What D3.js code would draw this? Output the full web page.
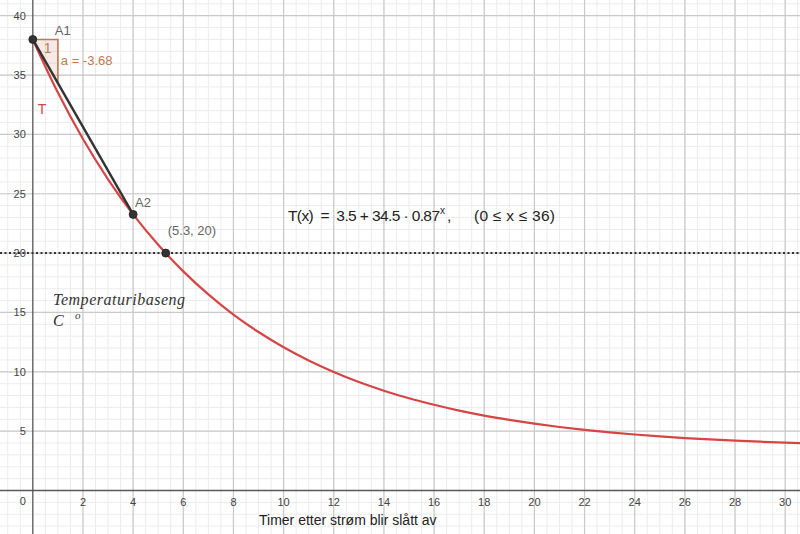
<!DOCTYPE html>
<html><head><meta charset="utf-8">
<script src="https://cdn.jsdelivr.net/npm/d3@7"></script>
<style>
html,body{margin:0;padding:0;background:#fff;}
svg{display:block;}
</style></head>
<body>
<svg id="c" width="800" height="534"></svg>
<script>
// ---- data ----
const xTicks = [2,4,6,8,10,12,14,16,18,20,22,24,26,28,30];
const yTicks = [5,10,15,20,25,30,35,40];
const curveX = [0,1,2,3,4,5,6,7,8,9,10,11,12,13,14,15,16,17,18,19,20,21,22,23,24,25,26,27,28,29,30,31];
const curveT = [38.0,33.52,29.61,26.22,23.26,20.70,18.46,16.52,14.82,13.35,12.07,10.96,9.99,9.14,8.41,7.77,7.22,6.73,6.31,5.95,5.63,5.35,5.11,4.90,4.72,4.56,4.42,4.30,4.20,4.11,4.03,3.96];
const pointNames = ["A1","A2","P"];
const pointX = [0, 4, 5.3];
const pointY = [38, 23.26, 20];
const slope = -3.68;
const hLineY = 20;

const W = 800, H = 534;
const svg = d3.select("#c");
const x = d3.scaleLinear().domain([-32.8/25.08, (W-32.8)/25.08]).range([0, W]);
const y = d3.scaleLinear().domain([-(H-490.5)/11.87, 490.5/11.87]).range([H, 0]);

// grid
const minorX = d3.range(Math.ceil(x.domain()[0]*2)/2, x.domain()[1], 0.5);
const minorY = d3.range(Math.ceil(y.domain()[0]), y.domain()[1], 1);
const g = svg.append("g");
g.selectAll("line.mx").data(minorX).join("line")
  .attr("x1", d=>x(d)).attr("x2", d=>x(d)).attr("y1",0).attr("y2",H)
  .attr("stroke","#ececec").attr("stroke-width",1);
g.selectAll("line.my").data(minorY).join("line")
  .attr("y1", d=>y(d)).attr("y2", d=>y(d)).attr("x1",0).attr("x2",W)
  .attr("stroke","#ececec").attr("stroke-width",1);
const majorX = d3.range(0, x.domain()[1], 2).filter(d=>d!==0);
const majorY = d3.range(0, y.domain()[1], 5).filter(d=>d!==0);
g.selectAll("line.Mx").data(majorX).join("line")
  .attr("x1", d=>x(d)).attr("x2", d=>x(d)).attr("y1",0).attr("y2",H)
  .attr("stroke","#c9c9c9").attr("stroke-width",1.2);
g.selectAll("line.My").data(majorY).join("line")
  .attr("y1", d=>y(d)).attr("y2", d=>y(d)).attr("x1",0).attr("x2",W)
  .attr("stroke","#c9c9c9").attr("stroke-width",1.2);

// axes
svg.append("line").attr("x1",0).attr("x2",W).attr("y1",y(0)).attr("y2",y(0))
  .attr("stroke","#5a5a5a").attr("stroke-width",1.3);
svg.append("line").attr("x1",x(0)).attr("x2",x(0)).attr("y1",0).attr("y2",H)
  .attr("stroke","#5a5a5a").attr("stroke-width",1.3);

const tickFont = "Liberation Sans, Arial, sans-serif";
svg.append("g").selectAll("text").data(xTicks).join("text")
  .attr("x", d=>x(d)).attr("y", y(0)+15).attr("text-anchor","middle")
  .attr("font-family",tickFont).attr("font-size",11).attr("fill","#444").text(d=>d);
svg.append("g").selectAll("text").data(yTicks).join("text")
  .attr("x", x(0)-7).attr("y", d=>y(d)+4).attr("text-anchor","end")
  .attr("font-family",tickFont).attr("font-size",11).attr("fill","#444").text(d=>d);
svg.append("text").attr("x", x(0)-7).attr("y", y(0)+14).attr("text-anchor","end")
  .attr("font-family",tickFont).attr("font-size",11).attr("fill","#444").text("0");

// dotted line y=20
svg.append("line").attr("x1",0).attr("x2",W).attr("y1",y(hLineY)).attr("y2",y(hLineY))
  .attr("stroke","#333").attr("stroke-width",2).attr("stroke-dasharray","2,2.5");

// slope triangle
const tri = [[pointX[0],pointY[0]],[pointX[0]+1,pointY[0]],[pointX[0]+1,pointY[0]+slope]];
svg.append("path").attr("d", "M"+tri.map(p=>x(p[0])+","+y(p[1])).join("L")+"Z")
  .attr("fill","rgba(153,51,0,0.1)").attr("stroke","#c07a50").attr("stroke-width",1.6);

// curve
const line = d3.line().x((d,i)=>x(curveX[i])).y(d=>y(d)).curve(d3.curveMonotoneX);
svg.append("path").attr("d", line(curveT)).attr("fill","none")
  .attr("stroke","#d64545").attr("stroke-width",2.2);

// segment A1-A2
svg.append("line").attr("x1",x(pointX[0])).attr("y1",y(pointY[0]))
  .attr("x2",x(pointX[1])).attr("y2",y(pointY[1]))
  .attr("stroke","#333").attr("stroke-width",2.4);

// points
svg.append("g").selectAll("circle").data(pointNames).join("circle")
  .attr("cx",(d,i)=>x(pointX[i])).attr("cy",(d,i)=>y(pointY[i])).attr("r",4)
  .attr("fill","#333").attr("stroke","#222").attr("stroke-width",0.8);

// labels
const lf = "Liberation Sans, Arial, sans-serif";
function lab(t, px, py, col, size){
  return svg.append("text").attr("x",px).attr("y",py).attr("font-family",lf)
    .attr("font-size",size||13).attr("fill",col).text(t);
}
lab("A1", x(pointX[0])+22, y(pointY[0])-4, "#666");
lab("1", x(pointX[0])+11, y(pointY[0])+14, "#c07a50", 14);
lab("a = " + slope.toFixed(2), x(pointX[0])+28, y(pointY[0])+26, "#c07a50");
lab("T", x(0)+5, y(32)+3, "#d64545", 14);
lab("A2", x(pointX[1])+2, y(pointY[1])-7, "#666");
lab("(5.3, 20)", x(pointX[2])+2, y(pointY[2])-18, "#666");

// formula
const ff = {family: lf, size: 15.5, col: "#222"};
svg.append("text").attr("x",288).attr("y",221).attr("font-family",ff.family)
  .attr("font-size",ff.size).attr("fill",ff.col).attr("xml:space","preserve")
  .attr("textLength",152).attr("lengthAdjust","spacing").text("T(x)  =  3.5 + 34.5 · 0.87");
svg.append("text").attr("x",440).attr("y",214).attr("font-family",ff.family)
  .attr("font-size",10).attr("fill",ff.col).text("x");
svg.append("text").attr("x",447).attr("y",221).attr("font-family",ff.family)
  .attr("font-size",ff.size).attr("fill",ff.col).text(",");
svg.append("text").attr("x",474).attr("y",221).attr("font-family",ff.family)
  .attr("font-size",ff.size).attr("fill",ff.col)
  .attr("textLength",81).attr("lengthAdjust","spacing").text("(0 ≤ x ≤ 36)");

// italic label
svg.append("text").attr("x",53).attr("y",305).attr("font-family","Liberation Serif, DejaVu Serif, serif")
  .attr("font-style","italic").attr("font-size",16).attr("fill","#333")
  .attr("textLength",132).attr("lengthAdjust","spacing").text("Temperaturibaseng");
svg.append("text").attr("x",53).attr("y",326).attr("font-family","Liberation Serif, DejaVu Serif, serif")
  .attr("font-style","italic").attr("font-size",16).attr("fill","#333").text("C");
svg.append("text").attr("x",75).attr("y",319).attr("font-family","Liberation Serif, DejaVu Serif, serif")
  .attr("font-style","italic").attr("font-size",11).attr("fill","#333").text("o");

// axis title
svg.append("text").attr("x",259).attr("y",525).attr("font-family",lf)
  .attr("font-size",14).attr("fill","#222").text("Timer etter strøm blir slått av");
</script>
</body></html>
